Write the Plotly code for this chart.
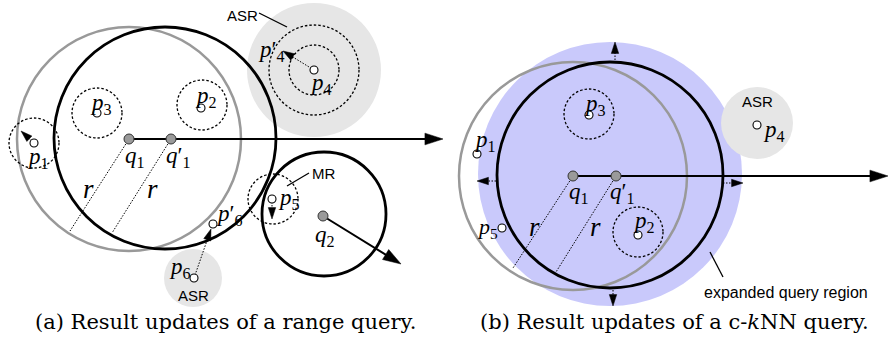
import plotly.graph_objects as go

W, H = 889, 337

# ---------------- data (pixel-space diagram coordinates) ----------------
# Panel (a): range query
a_range_old = (129, 139, 112)          # circle of q1 (grey)
a_range_new = (165, 138, 111)          # circle of q1' (black)
a_q2_circle = (324, 214, 62)
a_asr_disks = [(314, 70, 67), (193, 278, 29)]
a_safe_circles = [(97, 113, 25), (202, 105, 25), (34, 143, 25), (273, 199, 25),
                  (314, 70, 25), (314, 70, 45)]
a_query_x = [129, 171, 323]
a_query_y = [139, 139, 216]
a_obj_x = [97, 201, 34, 314, 272, 213, 194]
a_obj_y = [113, 108, 143, 70, 199, 224, 278]

# Panel (b): c-kNN query
b_expanded = (610, 174, 132)
b_knn_old = (573, 176, 114)
b_knn_new = (610, 175, 113)
b_asr_disks = [(757, 123, 36)]
b_safe_circles = [(589, 114, 25), (638, 232, 25)]
b_query_x = [573, 616]
b_query_y = [176, 176]
b_obj_x = [589, 638, 477, 502, 757]
b_obj_y = [115, 235, 154, 228, 125]

# solid arrows: (tail_x, tail_y, head_x, head_y)
solid_arrows = [(129, 139, 443, 139), (323, 216, 401, 264), (573, 176, 888, 176)]
# dotted arrows
dotted_arrows = [(34, 143, 21, 131), (314, 70, 283, 51), (272, 199, 272, 219),
                 (194, 278, 211, 229),
                 (615, 60, 615, 42), (613, 290, 613, 306), (496, 181, 477, 181),
                 (723, 183, 743, 183)]
# dotted radius lines
radius_lines = [(129, 139, 70, 231), (171, 139, 112, 233),
                (573, 176, 513, 268), (616, 176, 556, 272)]
# leader lines
leader_lines = [(259, 13, 287, 27), (309, 173, 287, 186), (710, 252, 723, 277)]

# math labels: (x, y, html, size)
math_labels = [
    (135, 157, "<i>q</i><sub>1</sub>", 23), (178, 157, "<i>q</i>′<sub>1</sub>", 23),
    (88, 189, "<i>r</i>", 27), (152, 189, "<i>r</i>", 27),
    (101, 104, "<i>p</i><sub>3</sub>", 23), (206, 97, "<i>p</i><sub>2</sub>", 23),
    (38, 158, "<i>p</i><sub>1</sub>", 23), (271, 51, "<i>p</i>′<sub>4</sub>", 23),
    (321, 84, "<i>p</i><sub>4</sub>", 23), (289, 199, "<i>p</i><sub>5</sub>", 23),
    (229, 215, "<i>p</i>′<sub>6</sub>", 23), (180, 268, "<i>p</i><sub>6</sub>", 23),
    (325, 236, "<i>q</i><sub>2</sub>", 23),
    (579, 193, "<i>q</i><sub>1</sub>", 23), (622, 193, "<i>q</i>′<sub>1</sub>", 23),
    (534, 227, "<i>r</i>", 27), (595, 227, "<i>r</i>", 27),
    (595, 105, "<i>p</i><sub>3</sub>", 23), (644, 222, "<i>p</i><sub>2</sub>", 23),
    (485, 141, "<i>p</i><sub>1</sub>", 23), (487, 228, "<i>p</i><sub>5</sub>", 22),
    (774, 131, "<i>p</i><sub>4</sub>", 23),
]
# sans labels: (x, y, text, size)
sans_labels = [(242, 15, "ASR", 15), (193, 295, "ASR", 15), (323, 173, "MR", 15),
               (757, 101, "ASR", 15), (786, 292, "expanded query region", 16)]
captions = [(225, 322, "(a) Result updates of a range query."),
            (674, 322, "(b) Result updates of a c-<i>k</i>NN query.")]

# ---------------- build figure ----------------
shapes = []


def circ(c, color="black", width=2.5, dash="solid", fill=None):
    cx, cy, r = c
    d = dict(type="circle", xref="x", yref="y", x0=cx - r, x1=cx + r,
             y0=cy - r, y1=cy + r, layer="below")
    if fill:
        d.update(fillcolor=fill, line=dict(width=0))
    else:
        d.update(line=dict(color=color, width=width, dash=dash))
    return d


def seg(l, width=1, dash="2px,2px", color="black"):
    x0, y0, x1, y1 = l
    return dict(type="line", xref="x", yref="y", x0=x0, y0=y0, x1=x1, y1=y1,
                layer="below", line=dict(color=color, width=width, dash=dash))


shapes.append(circ(b_expanded, fill="#c9c9fb"))
for d in a_asr_disks + b_asr_disks:
    shapes.append(circ(d, fill="#e6e6e6"))
shapes.append(circ(a_range_old, color="#999999", width=2.5))
shapes.append(circ(b_knn_old, color="#999999", width=2.5))
shapes.append(circ(a_range_new, color="black", width=2.8))
shapes.append(circ(b_knn_new, color="black", width=2.8))
shapes.append(circ(a_q2_circle, color="black", width=2.8))
for c in a_safe_circles + b_safe_circles:
    shapes.append(circ(c, color="black", width=1.3, dash="2.5px,2px"))
for l in radius_lines:
    shapes.append(seg(l, width=1, dash="1.5px,1.5px"))
for l in leader_lines:
    shapes.append(seg(l, width=1.3, dash="solid"))

fig = go.Figure()


def add_arrow(a, width, dash, head):
    tx, ty, hx, hy = a
    fig.add_trace(go.Scatter(
        x=[tx, hx], y=[ty, hy], mode="lines+markers", cliponaxis=False,
        hoverinfo="skip", line=dict(color="black", width=width, dash=dash),
        marker=dict(symbol="arrow", size=[0, head], angleref="previous",
                    color="black", opacity=1, line=dict(width=0.5, color="black"))))


for a in solid_arrows:
    add_arrow(a, 2, "solid", 19)
for a in dotted_arrows:
    add_arrow(a, 1, "1.5px,1.5px", 12)

fig.add_trace(go.Scatter(x=a_query_x + b_query_x, y=a_query_y + b_query_y,
                         mode="markers", cliponaxis=False, hoverinfo="skip",
                         marker=dict(size=10, color="#9a9a9a",
                                     line=dict(color="#333333", width=1))))
fig.add_trace(go.Scatter(x=a_obj_x + b_obj_x, y=a_obj_y + b_obj_y,
                         mode="markers", cliponaxis=False, hoverinfo="skip",
                         marker=dict(size=8, color="white",
                                     line=dict(color="black", width=1.1))))

annotations = []
for x, y, t, s in math_labels:
    annotations.append(dict(x=x, y=y, xref="x", yref="y", text=t, showarrow=False,
                            font=dict(family="Liberation Serif", size=s, color="black"),
                            xanchor="center", yanchor="middle"))
for x, y, t, s in sans_labels:
    annotations.append(dict(x=x, y=y, xref="x", yref="y", text=t, showarrow=False,
                            font=dict(family="Liberation Sans", size=s, color="black"),
                            xanchor="center", yanchor="middle"))
for x, y, t in captions:
    annotations.append(dict(x=x, y=y, xref="x", yref="y", text=t, showarrow=False,
                            font=dict(family="DejaVu Serif", size=21, color="black"),
                            xanchor="center", yanchor="middle"))

fig.update_layout(width=W, height=H, margin=dict(l=0, r=0, t=0, b=0),
                  paper_bgcolor="white", plot_bgcolor="white", showlegend=False,
                  shapes=shapes, annotations=annotations,
                  xaxis=dict(range=[0, W], visible=False, fixedrange=True),
                  yaxis=dict(range=[H, 0], visible=False, fixedrange=True))
fig.write_html("out.html", config={"displayModeBar": False},
               post_script="document.body.style.margin='0';document.body.style.overflow='hidden';")
